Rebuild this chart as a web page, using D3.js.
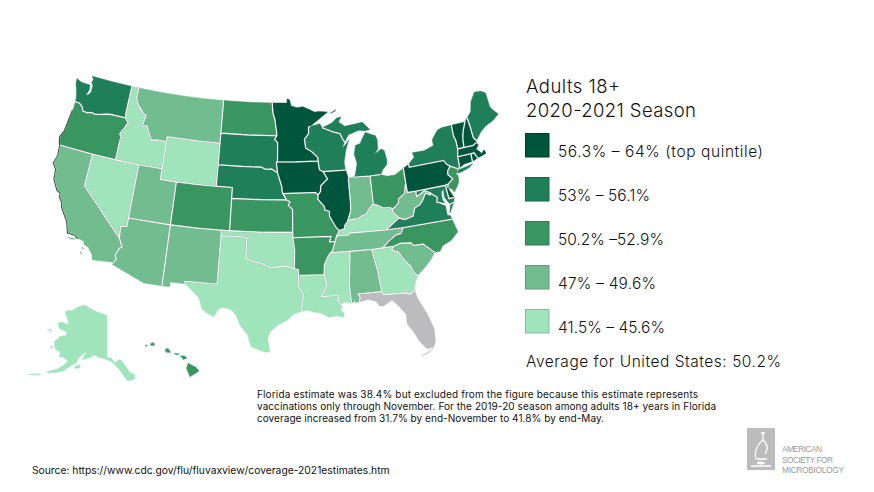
<!DOCTYPE html>
<html>
<head>
<meta charset="utf-8">
<script src="https://cdn.jsdelivr.net/npm/d3@7"></script>
<style>
  html, body { margin: 0; padding: 0; background: #fff; }
  svg { display: block; }
  text { font-family: Inter, "Open Sans", sans-serif; font-weight: 300; fill: #111; }
  .state { stroke-width: 0.5; stroke-linejoin: round; }
  .border-shade { fill: none; stroke: #8f8f8f; stroke-opacity: 0.55; stroke-width: 1.7; stroke-linecap: round; }
  .border { fill: none; stroke: #fff; stroke-width: 1.1; stroke-linecap: round; }
  .coast { fill: none; stroke: #4a4a4a; stroke-width: 1.2; }
  .title { font-size: 18.5px; }
  .legend-label, .average { font-size: 15.5px; }
  .note { font-size: 10px; font-weight: 400; }
  .source { font-size: 10.3px; font-weight: 400; }
  .logo-text { font-family: "Liberation Sans", sans-serif; font-weight: 400; font-size: 8.4px; fill: #9b9b9b; }
</style>
</head>
<body>
<svg id="map" width="874" height="492"></svg>
<script>
// state outlines, lon/lat
const WA = [[-117.03,49],[-120,49],[-122.76,49],[-122.5,48.75],[-122.6,48.4],[-122.35,48.2],[-122.3,47.6],[-122.55,47.25],[-122.9,47.15],[-122.65,47.7],[-122.75,48.15],[-123.2,48.15],[-124,48.17],[-124.72,48.38],[-124.65,47.9],[-124.3,47.3],[-124.05,46.7],[-124,46.27],[-123.45,46.25],[-123.2,46.15],[-122.85,45.9],[-122.75,45.65],[-122.2,45.58],[-121.5,45.72],[-121.1,45.65],[-120.5,45.72],[-119.6,45.92],[-119,46],[-116.92,46],[-117.04,46.42],[-117.04,47.5]];
const OR = [[-124,46.27],[-123.45,46.25],[-123.2,46.15],[-122.85,45.9],[-122.75,45.65],[-122.2,45.58],[-121.5,45.72],[-121.1,45.65],[-120.5,45.72],[-119.6,45.92],[-119,46],[-116.92,46],[-116.78,45.85],[-116.46,45.6],[-116.67,45.32],[-116.85,44.95],[-117.05,44.75],[-117.22,44.4],[-117.03,44.25],[-116.93,44.1],[-117.03,43.83],[-117.03,42],[-120,42],[-124.21,42],[-124.4,42.3],[-124.55,42.84],[-124.2,43.4],[-124.1,44.5],[-123.97,45.5]];
const CA = [[-124.21,42],[-120,42],[-120,39],[-114.63,35],[-114.14,34.3],[-114.43,34.05],[-114.72,33.4],[-114.52,33.03],[-114.72,32.72],[-117.12,32.53],[-117.28,33],[-117.9,33.6],[-118.4,33.75],[-118.5,34.03],[-119.2,34.15],[-119.6,34.42],[-120.47,34.45],[-120.65,34.9],[-120.9,35.45],[-121.9,36.6],[-122,36.95],[-122.5,37.5],[-122.5,37.8],[-123,38],[-123.7,38.9],[-123.85,39.8],[-124.35,40.3],[-124.1,41]];
const NV = [[-120,42],[-117.03,42],[-114.04,42],[-114.04,36.2],[-114.75,36.1],[-114.63,35],[-120,39]];
const ID = [[-117.03,49],[-116.05,49],[-116.05,48],[-115.7,47.5],[-114.7,46.73],[-114.33,46.65],[-114.56,45.56],[-113.94,45.69],[-113.45,44.95],[-113,44.45],[-112.3,44.55],[-111.5,44.55],[-111.05,44.48],[-111.05,42],[-114.04,42],[-117.03,42],[-117.03,43.83],[-116.93,44.1],[-117.03,44.25],[-117.22,44.4],[-117.05,44.75],[-116.85,44.95],[-116.67,45.32],[-116.46,45.6],[-116.78,45.85],[-116.92,46],[-117.04,46.42],[-117.04,47.5]];
const MT = [[-116.05,49],[-113,49],[-110,49],[-107,49],[-104.05,49],[-104.05,45.94],[-104.05,45],[-107,45],[-111.05,45],[-111.05,44.48],[-111.5,44.55],[-112.3,44.55],[-113,44.45],[-113.45,44.95],[-113.94,45.69],[-114.56,45.56],[-114.33,46.65],[-114.7,46.73],[-115.7,47.5],[-116.05,48]];
const WY = [[-111.05,45],[-107,45],[-104.05,45],[-104.05,43],[-104.05,41],[-107,41],[-111.05,41],[-111.05,42],[-111.05,44.48]];
const UT = [[-114.04,42],[-111.05,42],[-111.05,41],[-109.05,41],[-109.05,37],[-114.04,37]];
const AZ = [[-114.04,37],[-109.05,37],[-109.05,31.33],[-111.07,31.33],[-114.81,32.5],[-114.72,32.72],[-114.52,33.03],[-114.72,33.4],[-114.43,34.05],[-114.14,34.3],[-114.63,35],[-114.75,36.1],[-114.04,36.2]];
const CO = [[-109.05,41],[-105.5,41],[-102.05,41],[-102.05,40],[-102.05,37],[-105.5,37],[-109.05,37]];
const NM = [[-109.05,37],[-105.5,37],[-103,37],[-103,36.5],[-103.04,32],[-106.62,32],[-106.53,31.78],[-108.21,31.78],[-108.21,31.33],[-109.05,31.33]];
const ND = [[-104.05,49],[-100.5,49],[-97.23,49],[-97.1,48],[-96.85,47.5],[-96.6,46.3],[-96.56,45.94],[-100.5,45.94],[-104.05,45.94]];
const SD = [[-104.05,45.94],[-100.5,45.94],[-96.56,45.94],[-96.85,45.6],[-96.45,45.3],[-96.45,43.5],[-96.6,43.5],[-96.44,42.49],[-97.2,42.85],[-97.9,42.8],[-98.5,43],[-101,43],[-104.05,43]];
const NE = [[-104.05,43],[-101,43],[-98.5,43],[-97.9,42.8],[-97.2,42.85],[-96.44,42.49],[-96.1,41.7],[-95.9,41.2],[-95.85,40.7],[-95.31,40],[-98.5,40],[-102.05,40],[-102.05,41],[-104.05,41]];
const KS = [[-102.05,40],[-98.5,40],[-95.31,40],[-94.9,39.8],[-95.1,39.5],[-94.6,39.1],[-94.62,37],[-98.5,37],[-102.05,37]];
const OK = [[-103,37],[-98.5,37],[-94.62,37],[-94.62,36.5],[-94.43,35.4],[-94.49,33.64],[-95.5,33.9],[-96.5,33.8],[-97.2,33.75],[-98.1,34.1],[-99.2,34.3],[-100,34.56],[-100,36.5],[-103,36.5]];
const TX = [[-106.62,32],[-103.04,32],[-103,36.5],[-100,36.5],[-100,34.56],[-99.2,34.3],[-98.1,34.1],[-97.2,33.75],[-96.5,33.8],[-95.5,33.9],[-94.49,33.64],[-94.04,33.55],[-94.04,33.02],[-94.04,31.99],[-93.55,31.2],[-93.7,30.3],[-93.85,29.7],[-94.7,29.4],[-95.3,28.9],[-96.4,28.4],[-97.15,27.75],[-97.38,27.2],[-97.15,25.96],[-97.5,25.85],[-98.2,26.05],[-99.1,26.4],[-99.5,27.5],[-100.3,28.3],[-100.8,29.25],[-101.4,29.77],[-102.3,29.88],[-102.7,29.7],[-103.15,28.98],[-104,29.3],[-104.5,29.65],[-104.9,30.6],[-106,31.4],[-106.53,31.78]];
const MN = [[-97.23,49],[-95.15,49],[-95.15,49.38],[-94.8,49.3],[-94.6,48.72],[-93.8,48.55],[-92.95,48.62],[-92,48.3],[-91.4,48.07],[-90.75,48.1],[-89.6,48],[-91,47.3],[-92.1,46.75],[-92.29,46.66],[-92.3,46.07],[-92.88,45.58],[-92.75,44.75],[-92,44.4],[-91.25,43.85],[-91.22,43.5],[-94,43.5],[-96.45,43.5],[-96.45,45.3],[-96.85,45.6],[-96.56,45.94],[-96.6,46.3],[-96.85,47.5],[-97.1,48]];
const IA = [[-96.6,43.5],[-94,43.5],[-91.22,43.5],[-91.1,42.7],[-90.65,42.5],[-90.15,41.8],[-91.05,41.2],[-91.1,40.7],[-91.42,40.38],[-91.73,40.61],[-95.77,40.58],[-95.85,40.7],[-95.9,41.2],[-96.1,41.7],[-96.44,42.49]];
const MO = [[-95.77,40.58],[-91.73,40.61],[-91.42,40.38],[-91.5,40],[-90.75,39.3],[-90.7,38.95],[-90.15,38.8],[-90.2,38.4],[-89.9,37.9],[-89.5,37.3],[-89.13,36.98],[-89.5,36.5],[-89.7,36],[-90.37,36],[-90.15,36.5],[-94.62,36.5],[-94.62,37],[-94.6,39.1],[-95.1,39.5],[-94.9,39.8],[-95.31,40]];
const AR = [[-94.62,36.5],[-90.15,36.5],[-90.37,36],[-89.7,36],[-89.95,35.5],[-90.1,35.12],[-90.3,35],[-90.6,34.7],[-91.1,33.9],[-91.17,33],[-94.04,33.02],[-94.04,33.55],[-94.49,33.64],[-94.43,35.4]];
const LA = [[-94.04,33.02],[-91.17,33],[-90.95,32],[-91.6,31],[-89.73,31],[-89.85,30.65],[-89.6,30.18],[-89.4,29.9],[-89.6,29.65],[-89.2,29.3],[-89.4,28.95],[-90.1,29.15],[-90.9,29.05],[-91.8,29.5],[-92.3,29.55],[-93.2,29.77],[-93.85,29.7],[-93.7,30.3],[-93.55,31.2],[-94.04,31.99]];
const MS = [[-90.3,35],[-88.2,35],[-88.1,34.9],[-88.47,31.9],[-88.4,30.23],[-89.1,30.37],[-89.6,30.18],[-89.85,30.65],[-89.73,31],[-91.6,31],[-90.95,32],[-91.17,33],[-91.1,33.9],[-90.6,34.7]];
const TN = [[-90.3,35],[-90.1,35.12],[-89.95,35.5],[-89.7,36],[-89.5,36.5],[-88.07,36.5],[-88.07,36.68],[-83.68,36.6],[-81.68,36.59],[-82,36.1],[-82.6,36.03],[-83.5,35.57],[-84.32,35],[-85.6,34.98],[-88.2,35]];
const KY = [[-89.5,36.5],[-89.13,36.98],[-88.5,37.1],[-88.45,37.4],[-88.05,37.8],[-87.6,37.9],[-86.8,37.95],[-86.3,38.15],[-85.75,38.27],[-85.4,38.7],[-84.8,39.1],[-84.3,38.95],[-83.7,38.65],[-82.85,38.6],[-82.6,38.42],[-82.6,38.17],[-82,37.55],[-81.97,37.54],[-83.68,36.6],[-88.07,36.68],[-88.07,36.5]];
const IL = [[-90.65,42.5],[-87.8,42.5],[-87.53,41.7],[-87.53,39.35],[-87.6,38.7],[-87.95,38],[-88.05,37.8],[-88.45,37.4],[-88.5,37.1],[-89.13,36.98],[-89.5,37.3],[-89.9,37.9],[-90.2,38.4],[-90.15,38.8],[-90.7,38.95],[-90.75,39.3],[-91.5,40],[-91.42,40.38],[-91.1,40.7],[-91.05,41.2],[-90.15,41.8]];
const IN = [[-87.53,41.7],[-87.2,41.75],[-86.82,41.76],[-84.8,41.72],[-84.8,39.1],[-85.4,38.7],[-85.75,38.27],[-86.3,38.15],[-86.8,37.95],[-87.6,37.9],[-88.05,37.8],[-87.95,38],[-87.6,38.7],[-87.53,39.35]];
const OH = [[-84.8,41.72],[-83.45,41.73],[-82.7,41.5],[-81.7,41.5],[-80.52,41.98],[-80.52,40.64],[-80.65,40.3],[-80.85,39.7],[-81.7,39.25],[-81.75,38.95],[-82.2,38.6],[-82.6,38.42],[-82.85,38.6],[-83.7,38.65],[-84.3,38.95],[-84.8,39.1]];
const MI_LOWER = [[-86.82,41.76],[-84.8,41.72],[-83.45,41.73],[-83.15,42.1],[-82.5,42.6],[-82.42,43],[-82.6,43.9],[-82.95,44.07],[-83.9,43.65],[-83.4,44.1],[-83.3,44.9],[-83.45,45.35],[-84.75,45.78],[-85.1,45.4],[-85.6,44.8],[-86.2,44.7],[-86.5,43.9],[-86.25,43],[-86.6,42]];
const MI_UPPER = [[-90.42,46.57],[-89.1,46.95],[-88.4,47.38],[-87.8,47.45],[-88.2,47],[-87.4,46.55],[-86.2,46.65],[-85,46.75],[-84.6,46.45],[-84.1,46],[-84.75,45.95],[-85.6,46.05],[-86.5,45.85],[-87,45.75],[-87.6,45.1],[-87.8,45.35],[-88.1,45.9],[-89.1,46.13]];
const ISLE_ROYALE = [[-89.2,47.87],[-88.45,48.17],[-88.55,48.02]];
const WI = [[-92.29,46.66],[-92.1,46.75],[-91.2,46.87],[-90.75,46.95],[-90.42,46.57],[-89.1,46.13],[-88.1,45.9],[-87.8,45.35],[-87.6,45.1],[-88,44.55],[-87.4,44.9],[-87.05,45.25],[-87.55,44.3],[-87.9,43.2],[-87.8,42.5],[-90.65,42.5],[-91.1,42.7],[-91.22,43.5],[-91.25,43.85],[-92,44.4],[-92.75,44.75],[-92.88,45.58],[-92.3,46.07]];
const NY = [[-79.76,42.27],[-78.9,42.85],[-79.05,43.27],[-77.5,43.25],[-76.2,43.55],[-76.2,44.1],[-75.3,44.85],[-74.7,45],[-73.34,45.01],[-73.4,44],[-73.25,43.55],[-73.27,42.75],[-73.5,42.05],[-73.55,41.3],[-73.66,41],[-73.9,41],[-74.7,41.36],[-75.07,41.6],[-75.35,42],[-79.76,42]];
const LONG_ISLAND = [[-74.03,40.6],[-73.75,40.85],[-72.6,40.98],[-71.9,41.07],[-72.5,40.8],[-73.6,40.58]];
const PA = [[-80.52,41.98],[-79.76,42.27],[-79.76,42],[-75.35,42],[-75.07,41.6],[-74.7,41.36],[-75.13,40.98],[-75.2,40.65],[-74.72,40.15],[-75.4,39.8],[-75.79,39.72],[-79.48,39.72],[-80.52,39.72],[-80.52,40.64]];
const NJ = [[-74.7,41.36],[-73.9,41],[-74,40.7],[-74.25,40.5],[-74,40.4],[-74.1,39.75],[-74.4,39.4],[-74.9,38.93],[-75,39.2],[-75.55,39.5],[-75.4,39.8],[-74.72,40.15],[-75.2,40.65],[-75.13,40.98]];
const DE = [[-75.79,39.72],[-75.4,39.8],[-75.55,39.5],[-75.4,39.1],[-75.05,38.45],[-75.7,38.46]];
const MD = [[-79.48,39.72],[-75.79,39.72],[-75.7,38.46],[-75.05,38.45],[-75.25,38.03],[-75.65,37.95],[-75.9,38.2],[-76.2,38.7],[-76.1,39.4],[-76.45,39.2],[-76.5,38.5],[-76.3,38.05],[-76.95,38.3],[-77.2,38.35],[-77.05,38.8],[-77.5,39.1],[-77.75,39.32],[-78.4,39.62],[-79.48,39.2]];
const VA = [[-83.68,36.6],[-81.97,37.54],[-81.3,37.3],[-80.3,37.5],[-79.95,38.2],[-79.3,38.42],[-78.87,38.76],[-78.35,39.4],[-77.83,39.13],[-77.75,39.32],[-77.5,39.1],[-77.05,38.8],[-77.2,38.35],[-76.95,38.3],[-76.3,37.95],[-76.3,37],[-75.97,36.9],[-75.87,36.55],[-81.68,36.59]];
const VA_SHORE = [[-75.25,38.03],[-75.65,37.95],[-75.95,37.15],[-75.65,37.5]];
const WV = [[-80.52,40.64],[-80.52,39.72],[-79.48,39.72],[-79.48,39.2],[-78.4,39.62],[-77.75,39.32],[-77.83,39.13],[-78.35,39.4],[-78.87,38.76],[-79.3,38.42],[-79.95,38.2],[-80.3,37.5],[-81.3,37.3],[-81.97,37.54],[-82.6,38.17],[-82.6,38.42],[-82.2,38.6],[-81.75,38.95],[-81.7,39.25],[-80.85,39.7],[-80.65,40.3]];
const NC = [[-81.68,36.59],[-75.87,36.55],[-75.5,35.3],[-76.5,34.65],[-77.5,34.35],[-77.95,33.87],[-78.55,33.86],[-79.67,34.8],[-80.8,34.82],[-81.05,35.1],[-82.3,35.2],[-83.1,35],[-84.32,35],[-83.5,35.57],[-82.6,36.03],[-82,36.1]];
const SC = [[-83.1,35],[-82.3,35.2],[-81.05,35.1],[-80.8,34.82],[-79.67,34.8],[-78.55,33.86],[-79.2,33.2],[-80,32.6],[-80.85,32.05],[-81.15,32.2],[-81.5,33],[-82,33.5],[-82.6,34.4],[-83.35,34.7]];
const GA = [[-85.6,34.98],[-84.32,35],[-83.1,35],[-83.35,34.7],[-82.6,34.4],[-82,33.5],[-81.5,33],[-81.15,32.2],[-80.85,32.05],[-81.3,31.3],[-81.45,30.72],[-82.05,30.37],[-82.2,30.57],[-84.86,30.7],[-85,31],[-85.1,32],[-85.18,32.87]];
const AL = [[-88.2,35],[-85.6,34.98],[-85.18,32.87],[-85.1,32],[-85,31],[-87.6,31],[-87.4,30.67],[-87.52,30.28],[-88,30.25],[-87.95,30.65],[-88.1,30.35],[-88.4,30.23],[-88.47,31.9],[-88.1,34.9]];
const FL = [[-87.6,31],[-85,31],[-84.86,30.7],[-82.2,30.57],[-82.05,30.37],[-81.45,30.72],[-81.3,30],[-80.55,28.45],[-80.05,26.9],[-80.15,25.7],[-80.4,25.2],[-81.1,25.15],[-81.75,25.95],[-82.2,26.9],[-82.75,27.7],[-82.7,28.6],[-83.4,29.5],[-84,30.1],[-85,29.65],[-85.4,29.7],[-85.7,30.15],[-86.5,30.4],[-87.52,30.28],[-87.4,30.67]];
const FL_KEYS = [[-81.8,24.55],[-81,24.75],[-80.4,25.15],[-80.9,24.85]];
const VT = [[-73.34,45.01],[-71.5,45.01],[-72.05,44.2],[-72.3,43.6],[-72.46,42.73],[-73.27,42.75],[-73.25,43.55],[-73.4,44]];
const NH = [[-71.5,45.01],[-71.08,45.3],[-71,44.5],[-70.98,43.4],[-70.7,43.07],[-70.82,42.87],[-71.3,42.7],[-72.46,42.73],[-72.3,43.6],[-72.05,44.2]];
const ME = [[-71.08,45.3],[-70.4,45.8],[-70,46.7],[-69.2,47.45],[-68.3,47.35],[-67.8,47.07],[-67.8,45.7],[-67.45,45.3],[-67,44.85],[-68,44.4],[-69,44.15],[-69.8,43.75],[-70.7,43.07],[-70.98,43.4],[-71,44.5]];
const MA = [[-73.5,42.05],[-73.27,42.75],[-72.46,42.73],[-71.3,42.7],[-70.82,42.87],[-70.6,42.65],[-71,42.3],[-70.6,41.95],[-70.5,41.78],[-70.05,42.05],[-69.95,41.7],[-70.65,41.55],[-71.12,41.5],[-71.38,42.02],[-71.8,42.02]];
const CT = [[-73.5,42.05],[-71.8,42.02],[-71.85,41.32],[-72.9,41.25],[-73.66,41],[-73.55,41.3]];
const RI = [[-71.8,42.02],[-71.38,42.02],[-71.12,41.5],[-71.5,41.37],[-71.85,41.32]];
const AK = [[-141,69.65],[-141,60.3],[-139,60],[-137.5,58.95],[-136.5,59.45],[-135.1,59.65],[-133.5,58.4],[-131.8,56.6],[-130,55.9],[-130.2,55],[-131.5,54.8],[-133.2,54.9],[-134.3,56],[-135.8,57.5],[-137,58.2],[-138.5,59.1],[-140.5,59.7],[-142.5,60.05],[-144.5,60.15],[-146.5,60.7],[-148,60.2],[-149.5,59.8],[-151.8,59.3],[-151.2,60.4],[-150.3,61.1],[-151.3,60.9],[-152.5,60.2],[-153.8,59.3],[-154,58.4],[-156.3,57.4],[-158.5,56],[-161,55.2],[-163.3,54.7],[-164.8,54.6],[-163,55.3],[-161,56],[-158.8,57.4],[-157.8,58.4],[-158.8,58.6],[-160,58.9],[-161.8,58.7],[-162,59.8],[-164.3,60],[-165.3,60.6],[-166.1,61.6],[-165,62.5],[-164.6,63.1],[-162,63.6],[-161.8,64.4],[-163,64.55],[-166.3,64.6],[-168.1,65.6],[-166.3,66.2],[-163.8,66.1],[-162.6,66.2],[-163.5,67],[-166.2,68.3],[-166.3,68.9],[-163.2,69.4],[-161,70.3],[-156.6,71.35],[-152,70.85],[-147,70.2]];
const KODIAK = [[-153.9,57.1],[-152.3,57.5],[-152.3,58.1],[-153.5,57.9],[-154.6,57.4]];
const NUNIVAK = [[-167.4,60.2],[-165.7,59.9],[-166.1,60.4]];
const ST_LAWRENCE = [[-171.7,63.4],[-169,63.2],[-170.3,63.7]];
const ALEUTIANS = [[-170.5,52.6],[-168.2,53.3],[-166.3,53.8],[-167,53.4],[-168.5,53]];
const HI_BIG = [[-155.9,20.25],[-155.1,19.85],[-154.8,19.5],[-155.7,18.95],[-155.95,19.5],[-156.05,19.75]];
const HI_MAUI = [[-156.7,20.95],[-156.25,20.95],[-156,20.75],[-156.4,20.6],[-156.5,20.8]];
const HI_MOLOKAI = [[-157.3,21.2],[-156.75,21.15],[-157.1,21.07]];
const HI_OAHU = [[-158.25,21.55],[-157.95,21.7],[-157.65,21.3],[-158.1,21.3]];
const HI_KAUAI = [[-159.75,22.1],[-159.4,22.23],[-159.3,22],[-159.6,21.9]];
const HI_NIIHAU = [[-160.25,21.9],[-160.1,22],[-160.05,21.85]];
const CHANNEL_A = [[-120.4,34.02],[-119.5,34.05],[-119.9,33.93]];
const CHANNEL_B = [[-118.6,33.48],[-118.3,33.35],[-118.4,33.3]];
const CHANNEL_C = [[-118.6,33.05],[-118.35,32.82],[-118.5,32.85]];

const stateCodes = ["WA","OR","CA","NV","ID","MT","WY","UT","AZ","CO","NM","ND","SD","NE","KS","OK","TX","MN","IA","MO","AR","LA","MS","TN","KY","IL","IN","OH","MI","WI","NY","PA","NJ","DE","MD","VA","WV","NC","SC","GA","AL","FL","VT","NH","ME","MA","CT","RI","AK","HI"];
// legend group per state, 0 = top quintile, -1 = excluded
const stateGroups = [1,2,3,4,4,3,4,3,3,2,3,2,1,1,2,4,4,0,0,2,2,4,4,3,4,0,3,2,1,1,1,0,2,0,1,1,3,2,3,4,3,-1,0,0,1,0,0,0,4,2];
const stateRings = [[WA],[OR],[CA,CHANNEL_A,CHANNEL_B,CHANNEL_C],[NV],[ID],[MT],[WY],[UT],[AZ],[CO],[NM],[ND],[SD],[NE],[KS],[OK],[TX],[MN],[IA],[MO],[AR],[LA],[MS],[TN],[KY],[IL],[IN],[OH],[MI_LOWER,MI_UPPER,ISLE_ROYALE],[WI],[NY,LONG_ISLAND],[PA],[NJ],[DE],[MD],[VA,VA_SHORE],[WV],[NC],[SC],[GA],[AL],[FL,FL_KEYS],[VT],[NH],[ME],[MA],[CT],[RI],[AK,KODIAK,NUNIVAK,ST_LAWRENCE,ALEUTIANS],[HI_BIG,HI_MAUI,HI_MOLOKAI,HI_OAHU,HI_KAUAI,HI_NIIHAU]];
const coastLine = [[-123.97,45.5],[-124.1,44.5],[-124.2,43.4],[-124.55,42.84],[-124.4,42.3],[-124.21,42],[-124.1,41],[-124.35,40.3],[-123.85,39.8],[-123.7,38.9],[-123,38],[-122.5,37.8],[-122.5,37.5],[-122,36.95],[-121.9,36.6],[-120.9,35.45],[-120.65,34.9],[-120.47,34.45],[-119.6,34.42],[-119.2,34.15]];

const legendLabels = ["56.3% – 64% (top quintile)","53% – 56.1%","50.2% –52.9%","47% – 49.6%","41.5% – 45.6%"];
const titleLines = ["Adults 18+","2020-2021 Season"];
const averageLabel = "Average for United States: 50.2%";
const noteLines = [
  "Florida estimate was 38.4% but excluded from the figure because this estimate represents",
  "vaccinations only through November. For the 2019-20 season among adults 18+ years in Florida",
  "coverage increased from 31.7% by end-November to 41.8% by end-May."
];
const sourceLine = "Source: https://www.cdc.gov/flu/fluvaxview/coverage-2021estimates.htm";
const logoLines = ["AMERICAN","SOCIETY FOR","MICROBIOLOGY"];

const groupColors = ["#00563a","#1f7f59","#3a9661","#72bd90","#a0e4bc"];
const swatchEdges = ["#003f2a","#0f6a47","#2a7f50","#5f9c78","#7fbf99"];
const color = d3.scaleOrdinal().domain([0,1,2,3,4,-1]).range(groupColors.concat("#bcbcbe"));

const lower48 = d3.geoAlbers().scale(616).translate([276,214]);
const alaska = d3.geoConicEqualArea().rotate([141,0]).center([0,65]).parallels([55,65]).scale(258).translate([107,336]);
const hawaii = d3.geoConicEqualArea().rotate([157,0]).center([1.5,19.6]).parallels([8,18]).scale(600).translate([192,370]);

// straight segments between the listed vertices, no spherical winding to care about
function planarPath(projection) {
  return d3.geoPath(d3.geoTransform({
    point: function (lon, lat) {
      const p = projection([lon, lat]);
      this.stream.point(p[0], p[1]);
    },
  }));
}
const paths = { AK: planarPath(alaska), HI: planarPath(hawaii), main: planarPath(lower48) };

const features = stateCodes.map((code, i) => ({
  type: "Feature",
  properties: { code: code, group: stateGroups[i] },
  geometry: { type: "MultiPolygon", coordinates: stateRings[i].map((r) => [r.concat([r[0]])]) },
}));

// only edges with another state on one side get a white line, coasts stay clean
function touchesOther(a, b, index) {
  const dx = b[0] - a[0];
  const dy = b[1] - a[1];
  const len = Math.hypot(dx, dy) || 1;
  const mid = [(a[0] + b[0]) / 2, (a[1] + b[1]) / 2];
  const off = 0.1;
  const left = [mid[0] - (dy / len) * off, mid[1] + (dx / len) * off];
  const right = [mid[0] + (dy / len) * off, mid[1] - (dx / len) * off];
  return stateRings.some((rings, j) =>
    j !== index && rings.some((r) => d3.polygonContains(r, left) || d3.polygonContains(r, right))
  );
}

const borderSegments = [];
stateRings.forEach((rings, i) => {
  if (stateCodes[i] === "AK" || stateCodes[i] === "HI") return;
  rings.forEach((ring) => {
    ring.forEach((a, k) => {
      const b = ring[(k + 1) % ring.length];
      if (touchesOther(a, b, i)) borderSegments.push([a, b]);
    });
  });
});
const borders = { type: "MultiLineString", coordinates: borderSegments };

const svg = d3.select("#map");

svg.append("path")
  .attr("class", "coast")
  .datum({ type: "LineString", coordinates: coastLine })
  .attr("transform", "translate(-0.7,0.4)")
  .attr("d", paths.main);

svg.append("g")
  .selectAll("path")
  .data(features)
  .join("path")
  .attr("class", "state")
  .attr("fill", (d) => color(d.properties.group))
  .attr("stroke", (d) => color(d.properties.group))
  .attr("d", (d) => (paths[d.properties.code] || paths.main)(d));

svg.append("path").attr("class", "border-shade").datum(borders).attr("d", paths.main);
svg.append("path").attr("class", "border").datum(borders).attr("d", paths.main);

// legend
svg.selectAll(".title")
  .data(titleLines)
  .join("text")
  .attr("class", "title")
  .attr("x", 526)
  .attr("y", (d, i) => 93 + i * 24)
  .attr("textLength", (d, i) => [94, 170][i])
  .text((d) => d);

const legendY = d3.scalePoint().domain(d3.range(5)).range([133, 309]);
const legend = svg.append("g")
  .selectAll("g")
  .data(legendLabels)
  .join("g");
legend.append("rect")
  .attr("x", 525.5)
  .attr("y", (d, i) => legendY(i) + 0.5)
  .attr("width", 23.5)
  .attr("height", 23.5)
  .attr("fill", (d, i) => groupColors[i])
  .attr("stroke", (d, i) => swatchEdges[i]);
legend.append("text")
  .attr("class", "legend-label")
  .attr("x", 558)
  .attr("y", (d, i) => legendY(i) + 24)
  .attr("textLength", (d, i) => [205, 92, 106, 98, 107][i])
  .text((d) => d);

svg.append("text").attr("class", "average").attr("x", 526).attr("y", 367).attr("textLength", 255).text(averageLabel);

svg.selectAll(".note")
  .data(noteLines)
  .join("text")
  .attr("class", "note")
  .attr("x", 257)
  .attr("y", (d, i) => 398 + i * 12)
  .attr("textLength", (d, i) => [441, 459, 347][i])
  .text((d) => d);

svg.append("text").attr("class", "source").attr("x", 32).attr("y", 474).text(sourceLine);

// logo
const logo = svg.append("g");
logo.append("rect").attr("x", 747).attr("y", 428).attr("width", 28).attr("height", 42).attr("fill", "#bcbcbc");
logo.append("path")
  .attr("fill", "none")
  .attr("stroke", "#fff")
  .attr("stroke-width", 1.3)
  .attr("d", "M763 433v7M761 433h4M763 440c-6 5-9 12-7 19M763 440c5 4 5 10 2 14M757 459h10M751 466h20");
logo.append("ellipse").attr("cx", 761).attr("cy", 463).attr("rx", 4).attr("ry", 1.4).attr("fill", "#fff");
logo.selectAll(".logo-text")
  .data(logoLines)
  .join("text")
  .attr("class", "logo-text")
  .attr("x", 782)
  .attr("y", (d, i) => 452 + i * 10.6)
  .attr("textLength", (d, i) => [40, 51, 62][i])
  .text((d) => d);
</script>
</body>
</html>
